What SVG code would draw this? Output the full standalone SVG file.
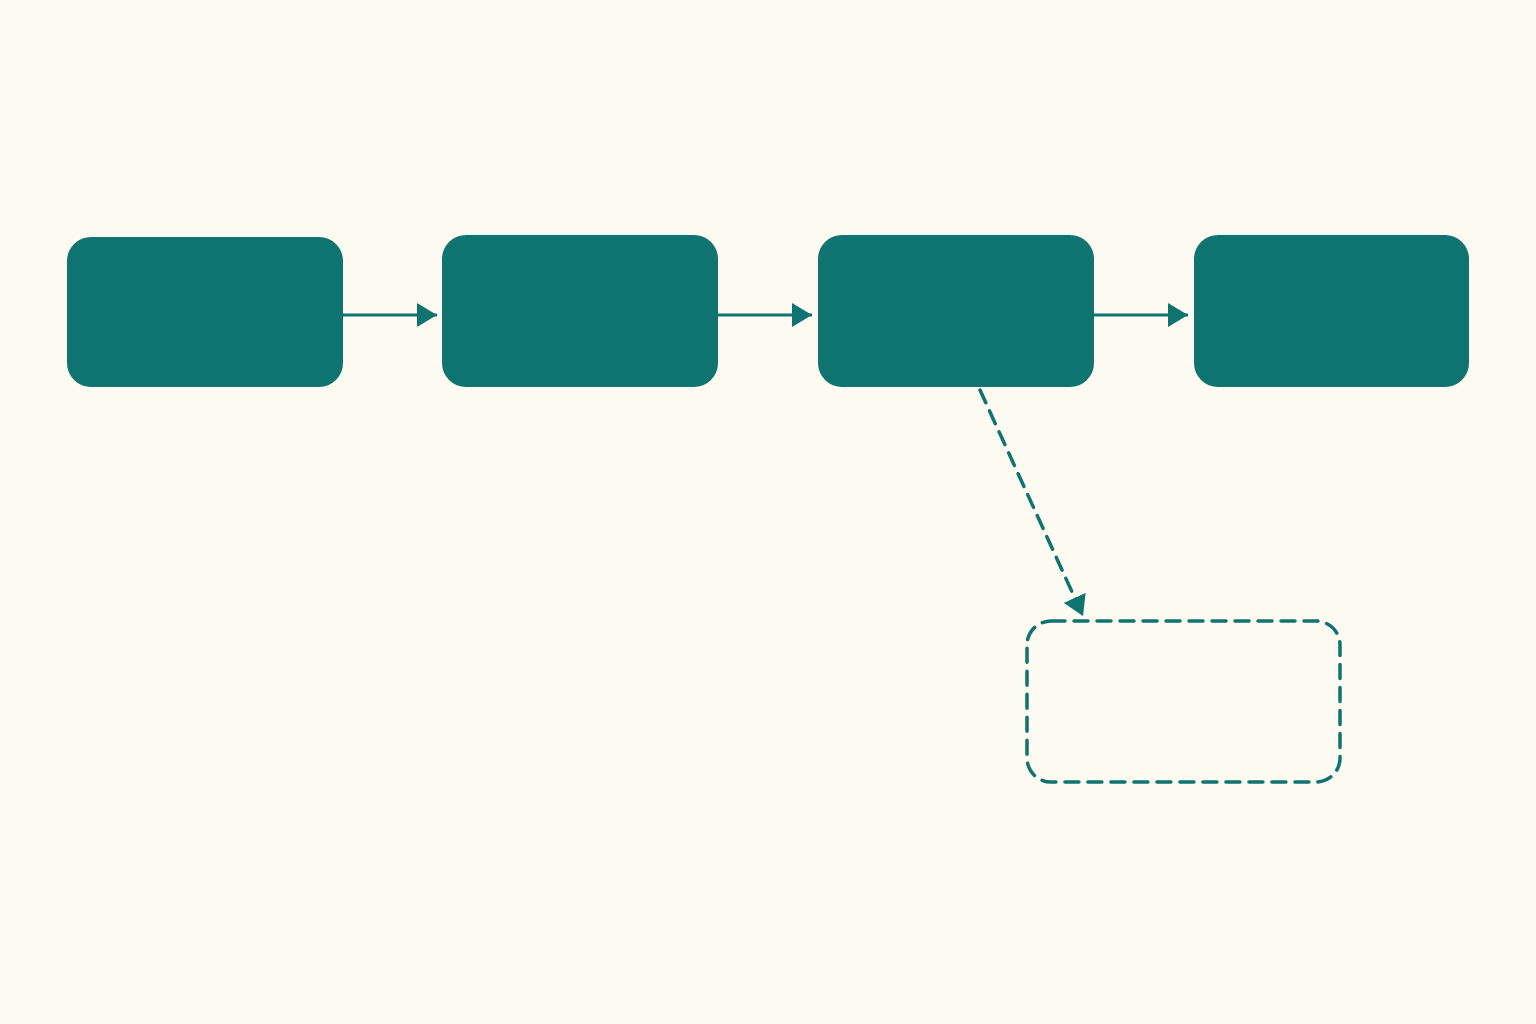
<svg xmlns="http://www.w3.org/2000/svg" width="1536" height="1024" viewBox="0 0 1536 1024">
<style>
.node{fill:#0f7370}
.edge{stroke:#0f7370;stroke-width:3;fill:none}
.dash{stroke:#0f7370;stroke-width:3.5;fill:none;stroke-dasharray:14 9;stroke-linecap:round}
</style>
<defs>
<marker id="ah" viewBox="0 0 20 24" refX="20" refY="12" markerWidth="20" markerHeight="24" markerUnits="userSpaceOnUse" orient="auto">
<path d="M0,0 L20,12 L0,24 Z" fill="#0f7370"/>
</marker>
</defs>
<rect width="1536" height="1024" fill="#fdfaf2"/>
<g id="connectors">
<line class="edge" x1="343" y1="315" x2="437" y2="315" marker-end="url(#ah)"/>
<line class="edge" x1="718" y1="315" x2="812" y2="315" marker-end="url(#ah)"/>
<line class="edge" x1="1094" y1="315" x2="1188" y2="315" marker-end="url(#ah)"/>
<line class="dash" x1="980" y1="390" x2="1083" y2="616" marker-end="url(#ah)"/>
</g>
<g id="node1"><rect class="node" x="67" y="237" width="276" height="150" rx="24"/></g>
<g id="node2"><rect class="node" x="442" y="235" width="276" height="152" rx="24"/></g>
<g id="node3"><rect class="node" x="818" y="235" width="276" height="152" rx="24"/></g>
<g id="node4"><rect class="node" x="1194" y="235" width="275" height="152" rx="24"/></g>
<g id="node5"><rect class="dash" x="1027" y="621" width="313" height="161" rx="24"/></g>
</svg>
